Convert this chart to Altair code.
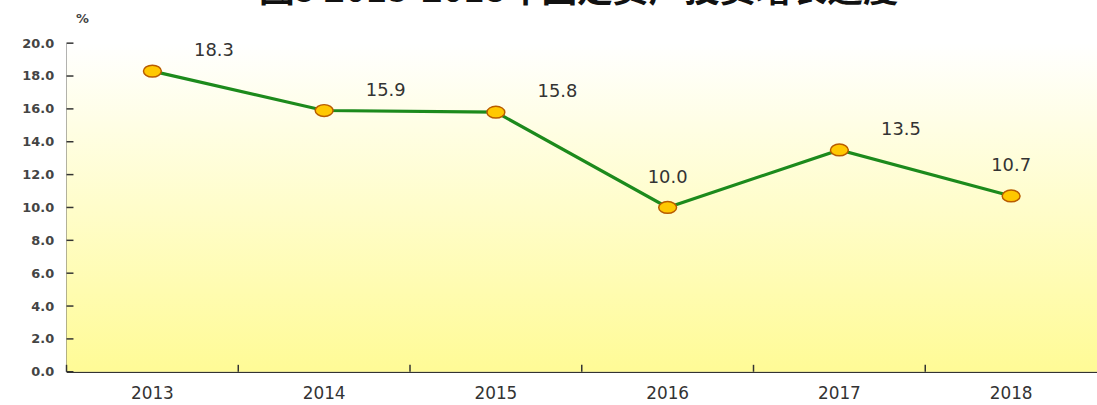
import altair as alt
import pandas as pd

# ---- data ----
years = ["2013", "2014", "2015", "2016", "2017", "2018"]
growth = [18.3, 15.9, 15.8, 10.0, 13.5, 10.7]
y_ticks = [0, 2, 4, 6, 8, 10, 12, 14, 16, 18, 20]
title_text = "图5 2013-2018年固定资产投资增长速度"
unit_text = "%"

df = pd.DataFrame({"year": years, "value": growth})
tick_df = pd.DataFrame({"value": y_ticks})

W, H = 1038, 331
AX = "#333333"
FONT = "DejaVu Sans"

x_axis = alt.Axis(
    title=None, labelAngle=0, ticks=False, domainColor=AX, domainWidth=1.5,
    labelFont=FONT, labelFontSize=17, labelColor=AX, labelPadding=14, grid=False,
)
x_scale = alt.Scale(paddingInner=0, paddingOuter=0)
x_enc = alt.X("year:N", scale=x_scale, axis=x_axis)

y_axis = alt.Axis(
    title=None, values=y_ticks, format=".1f", ticks=False, domainColor=AX,
    domainWidth=1.5, labelFont=FONT, labelFontSize=13, labelFontWeight="bold",
    labelColor="#444444", labelPadding=13, grid=False,
)
y_scale = alt.Scale(domain=[0, 20], nice=False, zero=True)
y_enc = alt.Y("value:Q", scale=y_scale, axis=y_axis)

bg = alt.Chart(alt.Data(values=[{}])).mark_rect(
    color=alt.LinearGradient(
        gradient="linear",
        stops=[
            alt.GradientStop(color="#FFFFFF", offset=0),
            alt.GradientStop(color="#FFFB96", offset=1),
        ],
        x1=0, x2=0, y1=0, y2=1,
    )
).encode(x=alt.value(0), x2=alt.value(W), y=alt.value(0), y2=alt.value(H))

line = alt.Chart(df).mark_line(color="#1C8A1C", strokeWidth=3.2).encode(x=x_enc, y=y_enc)

ytick_layer = alt.Chart(tick_df).mark_rule(color=AX, strokeWidth=1.5).encode(
    y=y_enc, x=alt.value(0), x2=alt.value(7)
)

xtick_layer = alt.Chart(df).mark_rule(color=AX, strokeWidth=1.5).encode(
    x=alt.X("year:N", scale=x_scale, axis=x_axis, bandPosition=0),
    y=alt.value(H - 7), y2=alt.value(H),
)

ellipse = "M -1 0 A 1 0.66 0 1 0 1 0 A 1 0.66 0 1 0 -1 0 Z"
points = alt.Chart(df).mark_point(
    shape=ellipse, size=324, filled=True, fill="#FFC800", stroke="#B85C00",
    strokeWidth=1.5, opacity=1,
).encode(x=x_enc, y=y_enc)

lbl_base = alt.Chart(df).transform_window(
    nxt="lead(value)", sort=[alt.SortField("year")]
)
lbl_right = lbl_base.transform_filter(
    "isValid(datum.nxt) && datum.nxt < datum.value"
).mark_text(dx=62, dy=-20, font=FONT, fontSize=18, color=AX).encode(
    x=x_enc, y=y_enc, text=alt.Text("value:Q", format=".1f")
)
lbl_center = lbl_base.transform_filter(
    "!isValid(datum.nxt) || datum.nxt >= datum.value"
).mark_text(dy=-30, font=FONT, fontSize=18, color=AX).encode(
    x=x_enc, y=y_enc, text=alt.Text("value:Q", format=".1f")
)

title = alt.Chart(alt.Data(values=[{"t": title_text}])).mark_text(
    font="Noto Sans CJK SC", fontSize=36, fontWeight="bold", color="#111111",
    baseline="alphabetic", align="center",
).encode(x=alt.value(516), y=alt.value(-41), text="t:N")

unit = alt.Chart(alt.Data(values=[{"t": unit_text}])).mark_text(
    font=FONT, fontSize=13, fontWeight="bold", color="#444444",
    align="center", baseline="middle",
).encode(x=alt.value(16), y=alt.value(-24), text="t:N")

chart = alt.layer(
    bg, line, points, ytick_layer, xtick_layer, lbl_right, lbl_center, title, unit
).properties(
    width=W, height=H,
    autosize=alt.AutoSizeParams(type="none"),
    padding={"left": 67, "top": 42, "right": 0, "bottom": 32},
    background="white",
).configure_view(stroke=None)

chart.save("out.html", embed_options={"renderer": "svg", "actions": False})
